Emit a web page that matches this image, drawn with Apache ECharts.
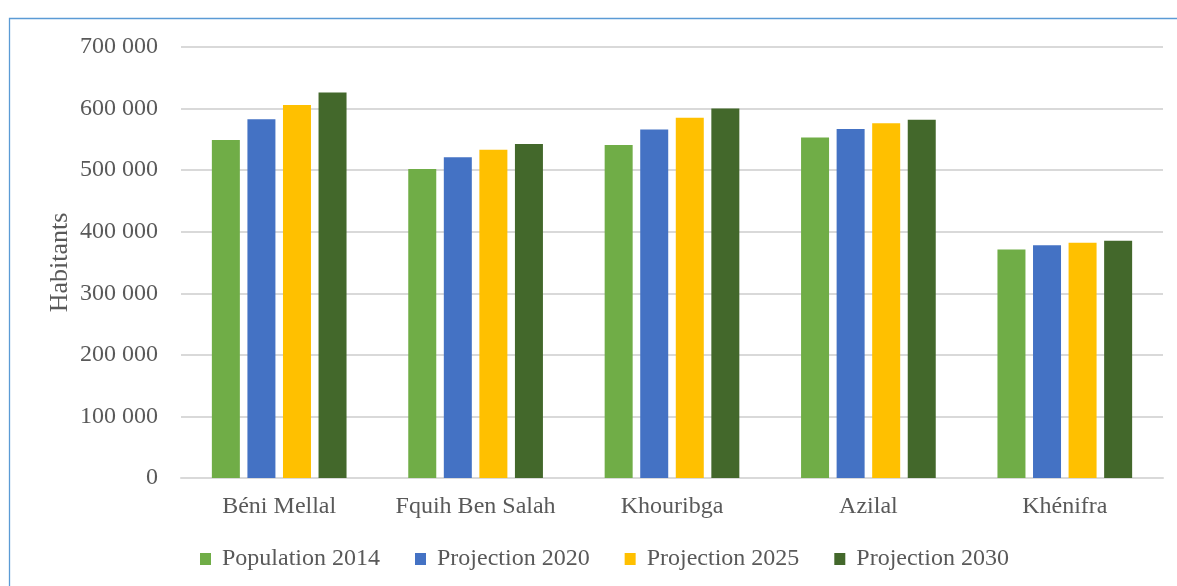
<!DOCTYPE html>
<html>
<head>
<meta charset="utf-8">
<script src="https://cdn.jsdelivr.net/npm/echarts@6/dist/echarts.min.js"></script>
<style>
html,body{margin:0;padding:0;background:#fff;}
#chart{width:1177px;height:586px;}
</style>
</head>
<body>
<div id="chart"></div>
<script>
const categories = ['Béni Mellal', 'Fquih Ben Salah', 'Khouribga', 'Azilal', 'Khénifra'];
const seriesNames = ['Population 2014', 'Projection 2020', 'Projection 2025', 'Projection 2030'];
const pop2014 = [549000, 502000, 541000, 553000, 371000];
const proj2020 = [582500, 521000, 566000, 567000, 378000];
const proj2025 = [606000, 533000, 585000, 576000, 382000];
const proj2030 = [626000, 542500, 600000, 582000, 385500];
const colors = ['#70ad47', '#4472c4', '#ffc000', '#43682b'];
const yTicks = { min: 0, max: 700000, interval: 100000 };

const seriesData = [pop2014, proj2020, proj2025, proj2030];
const font = 'Liberation Serif';
const textColor = '#595959';

const chart = echarts.init(document.getElementById('chart'), null, { renderer: 'canvas' });
chart.setOption({
  animation: false,
  backgroundColor: '#ffffff',
  graphic: [{
    type: 'rect',
    shape: { x: 9.5, y: 18.5, width: 1300, height: 700 },
    style: { fill: 'none', stroke: '#5b9bd5', lineWidth: 1.3 },
    silent: true
  }],
  grid: { left: 181, right: 14, top: 47, bottom: 108 },
  legend: {
    left: 200,
    top: 547,
    padding: 0,
    itemWidth: 11,
    itemHeight: 12,
    itemGap: 35,
    icon: 'rect',
    textStyle: { fontFamily: font, fontSize: 24, color: textColor, padding: [0, 0, 0, 6] },
    data: seriesNames
  },
  xAxis: {
    type: 'category',
    data: categories,
    axisLine: { show: true, lineStyle: { color: '#d9d9d9', width: 2 } },
    axisTick: { show: false },
    axisLabel: { fontFamily: font, fontSize: 24, color: textColor, margin: 17, interval: 0 }
  },
  yAxis: {
    type: 'value',
    min: yTicks.min,
    max: yTicks.max,
    interval: yTicks.interval,
    name: 'Habitants',
    nameLocation: 'middle',
    nameGap: 108,
    nameMoveOverlap: false,
    nameTextStyle: { fontFamily: font, fontSize: 26, color: textColor },
    axisLine: { show: false },
    axisTick: { show: false },
    splitLine: { lineStyle: { color: '#d9d9d9', width: 2 } },
    axisLabel: {
      fontFamily: font, fontSize: 24, color: textColor, margin: 23,
      formatter: v => v === 0 ? '0' : String(v).replace(/\B(?=(\d{3})+(?!\d))/g, ' ')
    }
  },
  series: seriesNames.map((name, i) => ({
    name: name,
    type: 'bar',
    data: seriesData[i],
    barWidth: 28,
    barGap: '27%',
    itemStyle: { color: colors[i] }
  }))
});
</script>
</body>
</html>
